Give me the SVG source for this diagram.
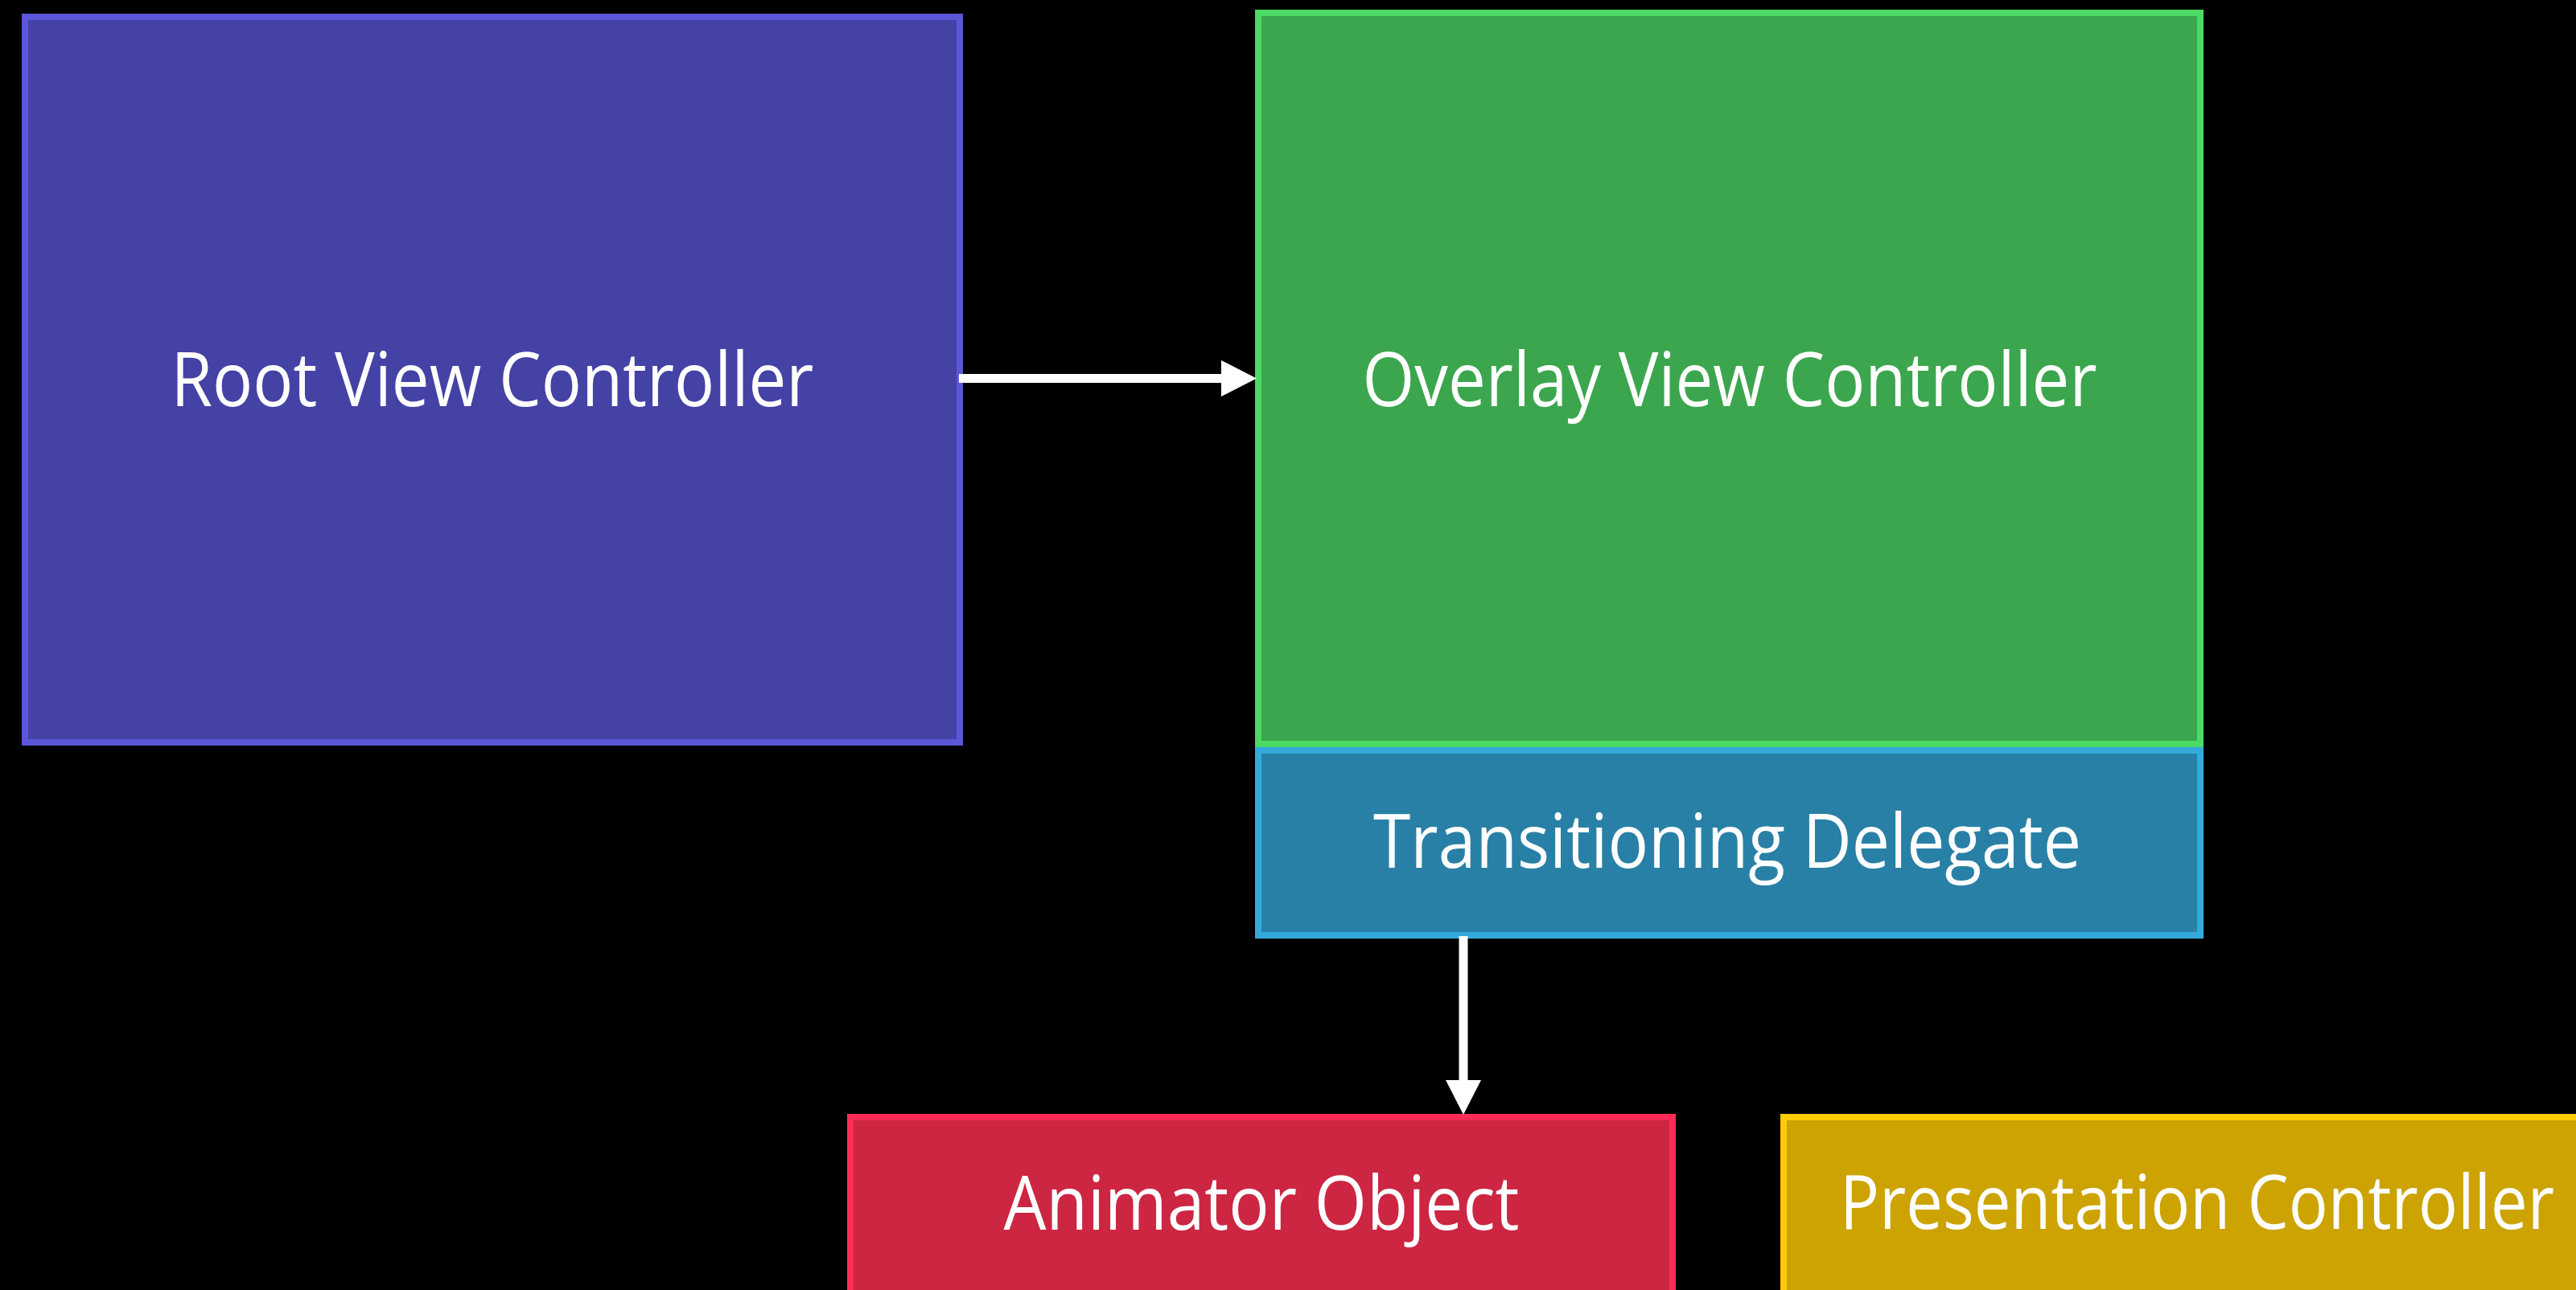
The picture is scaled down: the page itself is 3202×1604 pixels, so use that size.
<svg xmlns="http://www.w3.org/2000/svg" width="3202" height="1604" viewBox="0 0 3202 1604">
<defs>
<style>
.box{stroke-width:8}
.lbl{font-family:"Open Sans","Liberation Sans",sans-serif;font-size:93px;fill:#ffffff;text-anchor:middle}
.conn{stroke:#ffffff;stroke-width:11;fill:none}
.head{fill:#ffffff}
</style>
</defs>
<rect x="0" y="0" width="3202" height="1604" fill="#000000"/>
<g id="root-view-controller">
<rect class="box" x="31" y="21" width="1162" height="902" fill="#4442A5" stroke="#5A57D8"/>
<text class="lbl" x="612" y="505" textLength="799" lengthAdjust="spacingAndGlyphs">Root View Controller</text>
</g>
<g id="overlay-view-controller">
<rect class="box" x="1564" y="16" width="1171" height="909" fill="#3BA64D" stroke="#4CD964"/>
<text class="lbl" x="2150" y="505" textLength="913" lengthAdjust="spacingAndGlyphs">Overlay View Controller</text>
</g>
<g id="transitioning-delegate">
<rect class="box" x="1564" y="933" width="1171" height="230" fill="#2980A6" stroke="#34AADC"/>
<text class="lbl" x="2147" y="1079" textLength="880" lengthAdjust="spacingAndGlyphs">Transitioning Delegate</text>
</g>
<g id="animator-object">
<rect class="box" x="1057" y="1389" width="1022" height="300" fill="#CC2643" stroke="#FF2D55"/>
<text class="lbl" x="1568" y="1529" textLength="641" lengthAdjust="spacingAndGlyphs">Animator Object</text>
</g>
<g id="presentation-controller">
<rect class="box" x="2217" y="1389" width="1060" height="300" fill="#CCA300" stroke="#FFCC00"/>
<text class="lbl" x="2731" y="1528" textLength="888" lengthAdjust="spacingAndGlyphs">Presentation Controller</text>
</g>
<g id="connectors">
<line class="conn" x1="1192" y1="470.5" x2="1519" y2="470.5"/>
<polygon class="head" points="1518,448 1562,470.5 1518,493"/>
<line class="conn" x1="1819" y1="1164" x2="1819" y2="1344"/>
<polygon class="head" points="1797,1343 1841,1343 1819,1386"/>
</g>
</svg>
